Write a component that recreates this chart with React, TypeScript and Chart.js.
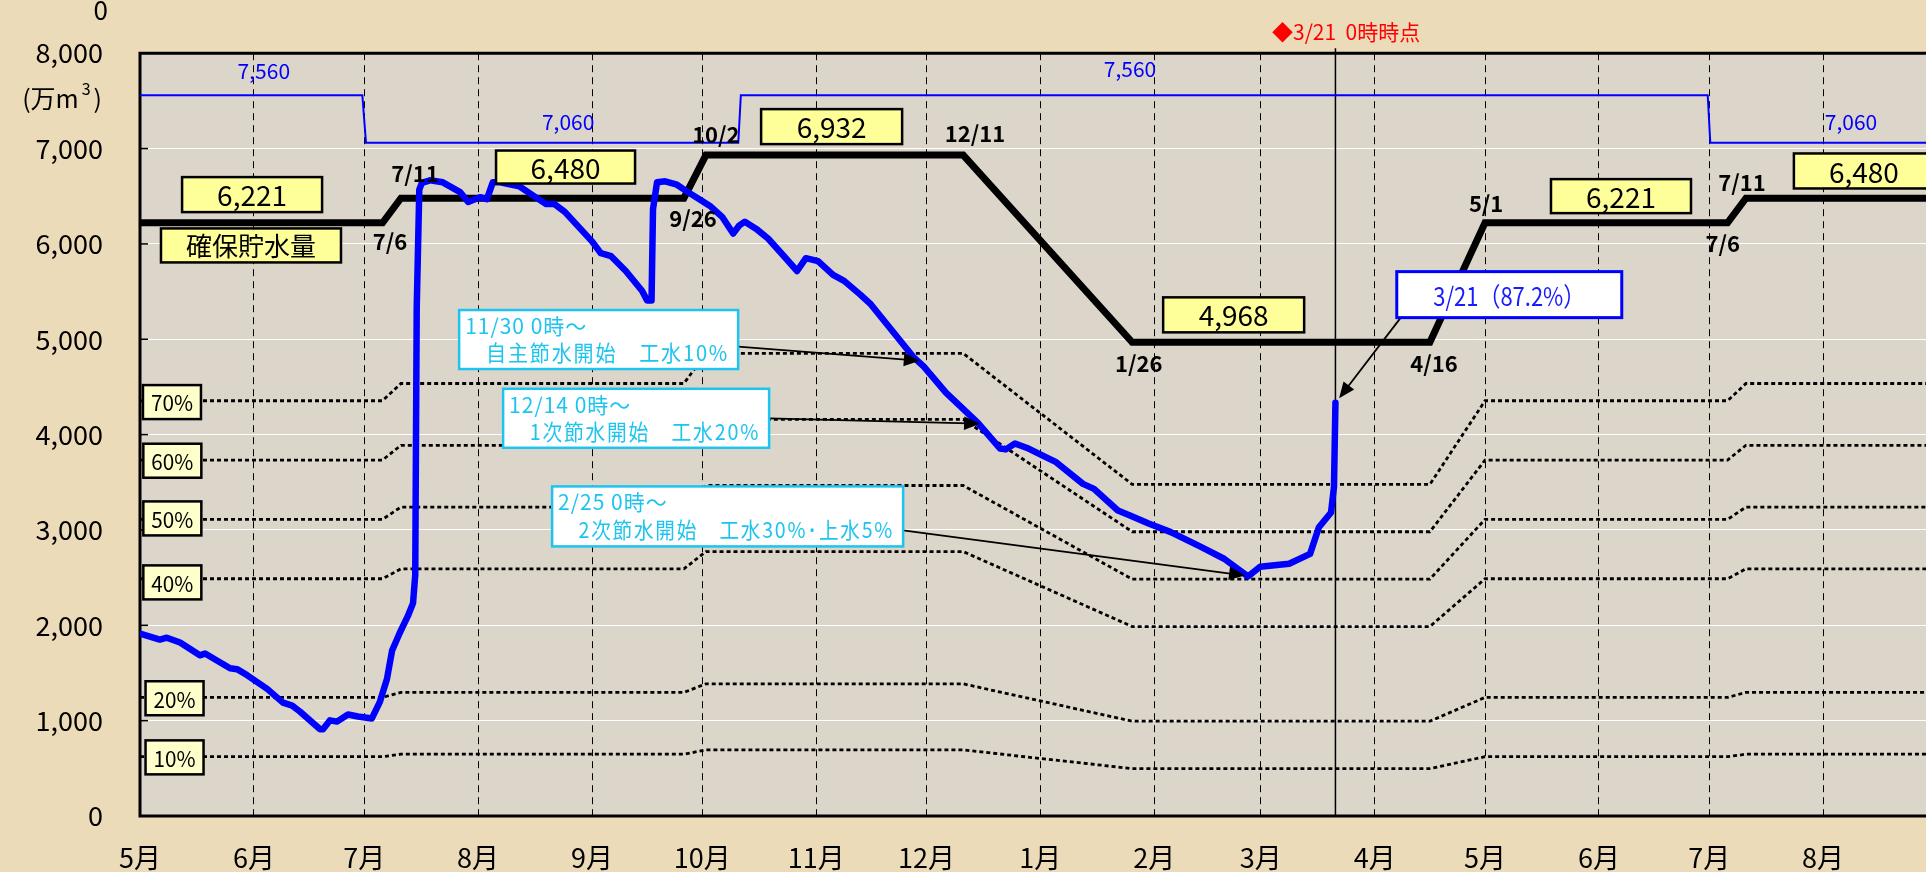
import React, { useEffect, useRef } from 'react';
import { Chart, registerables } from 'chart.js';

Chart.register(...registerables);

// ---------- DATA ----------
// x values are days counted from 5/1 (May 1)
const monthDays = [0, 31, 61, 92, 123, 153, 184, 214, 245, 276, 305, 336, 366, 397, 427, 458];
const monthLabels = ['5月', '6月', '7月', '8月', '9月', '10月', '11月', '12月', '1月', '2月', '3月', '4月', '5月', '6月', '7月', '8月'];
const X_MAX = 486;
const Y_MAX = 8000;
const Y_STEP = 1000;

// actual storage (万m3)
const storageDays = [
  0, 5.4, 7.3, 10.9, 16.3, 17.7, 24.5, 26.4, 29.1, 34.6,
  38.9, 41.4, 43.5, 49.0, 49.8, 51.7, 53.6, 56.6, 59.3, 63.1,
  65.3, 67.2, 68.6, 70.7, 72.9, 74.3, 74.9, 75.3, 76.0, 76.7,
  78.9, 82.4, 87.1, 89.3, 92.5, 94.4, 96.0, 98.0, 103.2, 107.2,
  110.5, 112.7, 115.6, 123.0, 125.4, 128.2, 132.2, 136.6, 138.0, 139.2,
  139.6, 140.7, 142.9, 145.9, 149.1, 152.1, 155.1, 158.4, 161.4, 163.0,
  164.6, 167.6, 170.9, 175.0, 178.8, 181.2, 184.5, 188.6, 191.6, 196.0,
  198.9, 210.4, 213.3, 219.3, 228.0, 234.0, 235.6, 238.1, 241.4, 244.4,
  249.3, 256.6, 259.6, 266.1, 269.4, 274.3, 280.5, 288.7, 295.0, 301.5,
  304.8, 312.7, 318.4, 320.8, 324.1, 324.9, 325.3,
];
const storageValues = [
  1912, 1850, 1870, 1819, 1685, 1705, 1550, 1540, 1478, 1333,
  1189, 1158, 1096, 910, 910, 1003, 990, 1065, 1044, 1023,
  1200, 1437, 1736, 1922, 2098, 2233, 2530, 5330, 6570, 6640,
  6667, 6646, 6543, 6440, 6490, 6470, 6646, 6646, 6605, 6501,
  6419, 6419, 6336, 6026, 5902, 5871, 5716, 5509, 5406, 5406,
  6367, 6646, 6656, 6625, 6543, 6470, 6398, 6284, 6109, 6191,
  6233, 6160, 6057, 5881, 5716, 5850, 5819, 5675, 5612, 5468,
  5365, 4816, 4713, 4440, 4124, 3855, 3845, 3907, 3860, 3803,
  3711, 3483, 3431, 3204, 3152, 3070, 2977, 2822, 2698, 2512,
  2615, 2646, 2749, 3028, 3183, 3452, 4335,
];

// capacity limit (thin blue)
const capacityDays = [0, 60.5, 61.5, 162.8, 163.5, 426.6, 427.3, 486];
const capacityValues = [7560, 7560, 7060, 7060, 7560, 7560, 7060, 7060];

// secured storage (thick black) and percentage reference lines
const ruleDays = [0, 66, 71, 148, 154, 224, 270, 351, 366, 432, 437, 486];
const securedValues = [6221, 6221, 6480, 6480, 6932, 6932, 4968, 4968, 6221, 6221, 6480, 6480];
const pct70Values = [4355, 4355, 4536, 4536, 4852, 4852, 3478, 3478, 4355, 4355, 4536, 4536];
const pct60Values = [3733, 3733, 3888, 3888, 4159, 4159, 2981, 2981, 3733, 3733, 3888, 3888];
const pct50Values = [3111, 3111, 3240, 3240, 3466, 3466, 2484, 2484, 3111, 3111, 3240, 3240];
const pct40Values = [2488, 2488, 2592, 2592, 2773, 2773, 1987, 1987, 2488, 2488, 2592, 2592];
const pct20Values = [1244, 1244, 1296, 1296, 1386, 1386, 994, 994, 1244, 1244, 1296, 1296];
const pct10Values = [622, 622, 648, 648, 693, 693, 497, 497, 622, 622, 648, 648];

const currentDay = 325.3; // 3/21

// ---------- ANNOTATIONS (anchored in data units) ----------
const yellowBoxes = [
  { text: '6,221', day: 30.5, value: 6517, w: 140, h: 35 },
  { text: '確保貯水量', day: 30.2, value: 5984, w: 180, h: 34 },
  { text: '6,480', day: 115.8, value: 6806, w: 139, h: 33 },
  { text: '6,932', day: 188.2, value: 7230, w: 141, h: 35 },
  { text: '4,968', day: 297.6, value: 5256, w: 141, h: 35 },
  { text: '6,221', day: 403.0, value: 6501, w: 140, h: 34 },
  { text: '6,480', day: 469.1, value: 6765, w: 140, h: 35 },
];
const dateLabels = [
  { text: '7/6', day: 68.0, value: 6026 },
  { text: '7/11', day: 74.8, value: 6739 },
  { text: '9/26', day: 150.5, value: 6264 },
  { text: '10/2', day: 156.7, value: 7142 },
  { text: '12/11', day: 227.2, value: 7152 },
  { text: '1/26', day: 271.8, value: 4744 },
  { text: '4/16', day: 352.1, value: 4744 },
  { text: '5/1', day: 366.3, value: 6419 },
  { text: '7/6', day: 430.7, value: 6005 },
  { text: '7/11', day: 435.9, value: 6646 },
];
const capacityLabels = [
  { text: '7,560', day: 33.7, value: 7814 },
  { text: '7,060', day: 116.5, value: 7276 },
  { text: '7,560', day: 269.4, value: 7835 },
  { text: '7,060', day: 465.6, value: 7276 },
];
const pctBoxes = [
  { text: '70%', day: 8.7, value: 4341 },
  { text: '60%', day: 8.8, value: 3726 },
  { text: '50%', day: 8.8, value: 3121 },
  { text: '40%', day: 8.8, value: 2450 },
  { text: '20%', day: 9.4, value: 1235 },
  { text: '10%', day: 9.4, value: 615 },
];
const noticeBoxes = [
  { lines: ['11/30 0時～', '　自主節水開始　工水10%'], day: 124.8, value: 4997, w: 279, h: 59, fromDY: 7, tipDay: 212.2, tipValue: 4775 },
  { lines: ['12/14 0時～', '　1次節水開始　工水20%'], day: 135.0, value: 4171, w: 266, h: 59, fromDY: 0, tipDay: 228.6, tipValue: 4114 },
  { lines: ['2/25 0時～', '　2次節水開始　工水30%･上水5%'], day: 159.9, value: 3142, w: 351, h: 60, fromDY: 14, tipDay: 300.7, tipValue: 2522 },
];
const currentBox = { text: '3/21（87.2%）', day: 372.6, value: 5468, w: 225, h: 46, tipDay: 326.3, tipValue: 4382 };
const headline = { text: '◆3/21  0時時点', day: 328.2, value: 8217 };
const unitLabel = { day: -21.2, value: 7524 };

// ---------- STYLE ----------
const FONT = '"Noto Sans CJK JP", "Noto Sans", sans-serif';
const OUTER_BG = '#ebdbb8';
const PLOT_BG = '#dcd5c9';
const CYAN = '#1cc4ef';
const BLUE = '#0000ff';

function pts(xs: number[], ys: number[]) {
  return xs.map((x, i) => ({ x, y: ys[i] }));
}

function drawArrow(ctx: CanvasRenderingContext2D, x1: number, y1: number, x2: number, y2: number, color: string, lw: number, head: number) {
  const ang = Math.atan2(y2 - y1, x2 - x1);
  const c = Math.cos(ang), s = Math.sin(ang);
  ctx.save();
  ctx.strokeStyle = color;
  ctx.fillStyle = color;
  ctx.lineWidth = lw;
  ctx.beginPath();
  ctx.moveTo(x1, y1);
  ctx.lineTo(x2 - c * head * 0.7, y2 - s * head * 0.7);
  ctx.stroke();
  const hw = head * 0.42;
  ctx.beginPath();
  ctx.moveTo(x2, y2);
  ctx.lineTo(x2 - head * c + hw * s, y2 - head * s - hw * c);
  ctx.lineTo(x2 - head * c - hw * s, y2 - head * s + hw * c);
  ctx.closePath();
  ctx.fill();
  ctx.restore();
}

function rectBox(ctx: CanvasRenderingContext2D, cx: number, cy: number, w: number, h: number, fill: string, stroke: string, lw: number) {
  ctx.save();
  ctx.fillStyle = fill;
  ctx.fillRect(cx - w / 2, cy - h / 2, w, h);
  ctx.strokeStyle = stroke;
  ctx.lineWidth = lw;
  ctx.strokeRect(cx - w / 2, cy - h / 2, w, h);
  ctx.restore();
}

function txt(ctx: CanvasRenderingContext2D, s: string, x: number, y: number, font: string, color: string, align: CanvasTextAlign = 'center', maxW?: number) {
  ctx.save();
  ctx.font = font;
  ctx.fillStyle = color;
  ctx.textAlign = align;
  ctx.textBaseline = 'middle';
  if (maxW) ctx.fillText(s, x, y, maxW);
  else ctx.fillText(s, x, y);
  ctx.restore();
}

const bgPlugin = {
  id: 'bgFrame',
  beforeDraw(chart: any) {
    const { ctx, chartArea: a, width, height } = chart;
    ctx.save();
    ctx.fillStyle = OUTER_BG;
    ctx.fillRect(0, 0, width, height);
    ctx.fillStyle = PLOT_BG;
    ctx.fillRect(a.left, a.top, a.right - a.left, a.bottom - a.top);
    ctx.restore();
  },
  beforeDatasetsDraw(chart: any) {
    const { ctx, chartArea: a, scales } = chart;
    ctx.save();
    ctx.strokeStyle = '#000';
    ctx.lineWidth = 1.5;
    for (let v = Y_STEP; v < Y_MAX; v += Y_STEP) {
      const y = scales.y.getPixelForValue(v);
      ctx.beginPath();
      ctx.moveTo(a.left, y);
      ctx.lineTo(a.left + 8, y);
      ctx.stroke();
    }
    ctx.lineWidth = 3;
    ctx.beginPath();
    ctx.moveTo(a.left, a.top);
    ctx.lineTo(a.right, a.top);
    ctx.moveTo(a.left, a.top - 1.5);
    ctx.lineTo(a.left, a.bottom + 1.5);
    ctx.moveTo(a.left, a.bottom);
    ctx.lineTo(a.right, a.bottom);
    ctx.stroke();
    // current date vertical line
    const xc = scales.x.getPixelForValue(currentDay);
    ctx.lineWidth = 1.5;
    ctx.beginPath();
    ctx.moveTo(xc, a.top - 5);
    ctx.lineTo(xc, a.bottom);
    ctx.stroke();
    ctx.restore();
  },
};

const annotationPlugin = {
  id: 'annotations',
  afterDatasetsDraw(chart: any) {
    const { ctx, scales } = chart;
    const X = (d: number) => scales.x.getPixelForValue(d);
    const Y = (v: number) => scales.y.getPixelForValue(v);

    // percentage labels
    pctBoxes.forEach((b) => {
      rectBox(ctx, X(b.day), Y(b.value), 58, 34, '#ffffcc', '#000', 2.5);
      txt(ctx, b.text, X(b.day), Y(b.value) + 1, `22px ${FONT}`, '#000', 'center', 42);
    });

    // yellow value boxes
    yellowBoxes.forEach((b) => {
      rectBox(ctx, X(b.day), Y(b.value), b.w, b.h, '#ffff99', '#000', 2.5);
      const isNum = /^[0-9,]+$/.test(b.text);
      txt(ctx, b.text, X(b.day), Y(b.value) + 1, isNum ? `28px ${FONT}` : `26px ${FONT}`, '#000', 'center', b.w - 18);
    });

    // date labels
    dateLabels.forEach((l) => {
      txt(ctx, l.text, X(l.day), Y(l.value), `bold 22px ${FONT}`, '#000');
    });

    // capacity labels
    capacityLabels.forEach((l) => {
      txt(ctx, l.text, X(l.day), Y(l.value), `21px ${FONT}`, BLUE, 'center', 54);
    });

    // notice boxes (cyan) with arrows
    noticeBoxes.forEach((b) => {
      const cx = X(b.day), cy = Y(b.value);
      const left = cx - b.w / 2, top = cy - b.h / 2;
      drawArrow(ctx, left + b.w, cy + b.fromDY, X(b.tipDay), Y(b.tipValue), '#000', 1.8, 16);
      rectBox(ctx, cx, cy, b.w, b.h, '#ffffff', CYAN, 2.5);
      ctx.save();
      (ctx as any).letterSpacing = '1px';
      txt(ctx, b.lines[0], left + 6, top + 16, `21px ${FONT}`, CYAN, 'left');
      (ctx as any).letterSpacing = '2px';
      txt(ctx, b.lines[1], left + 5, top + 43, `22px ${FONT}`, CYAN, 'left', b.w - 14);
      ctx.restore();
    });

    // current value box with arrow
    {
      const cx = X(currentBox.day), cy = Y(currentBox.value);
      const left = cx - currentBox.w / 2, bottom = cy + currentBox.h / 2;
      drawArrow(ctx, left + 4, bottom, X(currentBox.tipDay), Y(currentBox.tipValue), '#000', 1.8, 16);
      rectBox(ctx, cx, cy, currentBox.w, currentBox.h, '#ffffff', BLUE, 3);
      txt(ctx, currentBox.text, cx, cy + 1, `26px ${FONT}`, '#1a1aff', 'center', 152);
    }

    // headline
    txt(ctx, headline.text, X(headline.day), Y(headline.value), `21px ${FONT}`, '#ff0000', 'center', 168);

    // unit label (万m3)
    {
      const cx = X(unitLabel.day), cy = Y(unitLabel.value);
      ctx.save();
      ctx.textBaseline = 'middle';
      ctx.fillStyle = '#000';
      const f1 = `25px ${FONT}`, f2 = `16px ${FONT}`;
      ctx.font = f1;
      const a = '(万m', c = ')';
      const wa = ctx.measureText(a).width, wc = ctx.measureText(c).width;
      ctx.font = f2;
      const wb = ctx.measureText('3').width;
      const gap = 3;
      const total = wa + wb + wc + gap * 2;
      let x = cx - total / 2;
      ctx.font = f1;
      ctx.textAlign = 'left';
      ctx.fillText(a, x, cy);
      x += wa + gap;
      ctx.font = f2;
      ctx.fillText('3', x, cy - 10);
      x += wb + gap;
      ctx.font = f1;
      ctx.fillText(c, x, cy);
      ctx.restore();
    }

    // clipped label remnant at top-left
    txt(ctx, '0', X(-8.7), Y(8455), `26px ${FONT}`, '#000', 'right');
  },
};

export default function App() {
  const ref = useRef<HTMLCanvasElement>(null);
  useEffect(() => {
    const canvas = ref.current;
    if (!canvas) return;
    const dotted = (data: number[]) => ({
      data: pts(ruleDays, data),
      borderColor: '#000',
      borderWidth: 2.8,
      borderDash: [4, 3],
      pointRadius: 0,
      fill: false,
      tension: 0,
    });
    const chart = new Chart(canvas, {
      type: 'line',
      data: {
        datasets: [
          {
            data: pts(storageDays, storageValues),
            borderColor: BLUE,
            borderWidth: 6.5,
            pointRadius: 0,
            borderJoinStyle: 'round',
            borderCapStyle: 'round',
            tension: 0,
          },
          {
            data: pts(ruleDays, securedValues),
            borderColor: '#000',
            borderWidth: 7,
            pointRadius: 0,
            borderJoinStyle: 'miter',
            tension: 0,
          },
          {
            data: pts(capacityDays, capacityValues),
            borderColor: BLUE,
            borderWidth: 2,
            pointRadius: 0,
            tension: 0,
          },
          dotted(pct70Values),
          dotted(pct60Values),
          dotted(pct50Values),
          dotted(pct40Values),
          dotted(pct20Values),
          dotted(pct10Values),
        ] as any,
      },
      options: {
        animation: false,
        responsive: false,
        maintainAspectRatio: false,
        layout: { padding: { top: 42, right: 0, bottom: 0, left: 0 } },
        plugins: { legend: { display: false }, tooltip: { enabled: false } },
        scales: {
          x: {
            type: 'linear',
            min: 0,
            max: X_MAX,
            afterBuildTicks: (s: any) => {
              s.ticks = monthDays.map((v) => ({ value: v }));
            },
            afterFit: (s: any) => {
              s.height = 56;
            },
            ticks: {
              autoSkip: false,
              maxRotation: 0,
              padding: 26,
              color: '#000',
              font: { family: FONT, size: 27 },
              callback: (v: any) => {
                const i = monthDays.indexOf(Number(v));
                return i >= 0 ? monthLabels[i] : '';
              },
            },
            grid: { color: '#000', lineWidth: 1, drawTicks: false },
            border: { display: false, dash: [7, 5] },
          },
          y: {
            min: 0,
            max: Y_MAX,
            afterFit: (s: any) => {
              s.width = 140;
            },
            ticks: {
              stepSize: Y_STEP,
              padding: 37,
              color: '#000',
              font: { family: FONT, size: 27 },
              callback: (v: any) => Number(v).toLocaleString('en-US'),
            },
            grid: { color: '#ffffff', lineWidth: 1, drawTicks: false },
            border: { display: false },
          },
        },
      } as any,
      plugins: [bgPlugin, annotationPlugin] as any,
    });
    return () => chart.destroy();
  }, []);
  return (
    <div style={{ position: 'fixed', left: 0, top: 0, width: 1926, height: 872 }}>
      <canvas ref={ref} width={1926} height={872} style={{ width: '1926px', height: '872px', display: 'block' }} />
    </div>
  );
}
